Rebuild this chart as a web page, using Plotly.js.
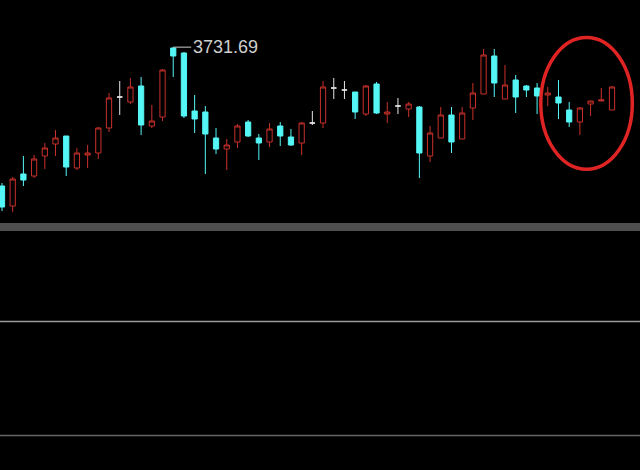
<!DOCTYPE html>
<html>
<head>
<meta charset="utf-8">
<script src="https://cdn.plot.ly/plotly-3.0.1.min.js"></script>
<style>
  html, body { margin: 0; padding: 0; background: #000; }
  #chart { width: 640px; height: 470px; }
</style>
</head>
<body>
<div id="chart"></div>
<script>
// Daily index candles
const days = Array.from({length: 58}, (_, i) => i);
const openV  = [3454,3414,3478,3474,3514,3538,3554,3490,3516,3520,3570,3632,3622,3654,3574,3592,3730,3720,3604,3602,3550,3528,3542,3582,3550,3542,3574,3552,3540,3580,3580,3650,3646,3642,3598,3658,3598,3614,3608,3612,3514,3550,3596,3548,3610,3638,3714,3628,3666,3654,3650,3636,3632,3606,3582,3618,3624,3606];
const highV  = [3460,3472,3514,3516,3540,3566,3554,3530,3536,3572,3640,3664,3670,3672,3616,3688,3731.69,3722,3636,3614,3570,3548,3578,3586,3558,3580,3582,3568,3582,3604,3664,3670,3664,3642,3656,3662,3622,3630,3622,3614,3574,3612,3612,3612,3660,3728,3728,3696,3676,3656,3660,3652,3666,3622,3612,3624,3650,3654];
const lowV   = [3404,3402,3454,3470,3488,3514,3474,3486,3490,3508,3562,3596,3618,3556,3570,3584,3672,3590,3560,3478,3518,3486,3530,3552,3506,3532,3534,3534,3516,3576,3570,3628,3628,3588,3594,3598,3580,3598,3592,3470,3502,3550,3520,3548,3586,3638,3632,3628,3600,3632,3598,3614,3588,3572,3556,3594,3624,3606];
const closeV = [3412,3468,3466,3508,3530,3550,3492,3520,3520,3570,3630,3632,3652,3576,3584,3686,3714,3594,3588,3558,3528,3536,3574,3554,3540,3568,3554,3536,3580,3580,3652,3650,3646,3602,3654,3600,3602,3614,3618,3520,3560,3596,3542,3600,3640,3716,3660,3656,3632,3646,3634,3640,3620,3582,3610,3624,3626,3652];
const peakLabel = "3731.69";
const peakIndex = 16;

function pick(test) {
  const x = [], o = [], h = [], l = [], c = [];
  days.forEach((d, i) => {
    if (test(openV[i], closeV[i])) {
      x.push(d); o.push(openV[i]); h.push(highV[i]); l.push(lowV[i]); c.push(closeV[i]);
    }
  });
  return {x, open: o, high: h, low: l, close: c};
}

const RED = '#c8302a', CYAN = '#54f6f6', WHITE = '#e6e6e6';

function candle(sel, lineColor, fill) {
  return Object.assign({
    type: 'candlestick',
    whiskerwidth: 0,
    hoverinfo: 'skip',
    increasing: {line: {color: lineColor, width: 1}, fillcolor: fill},
    decreasing: {line: {color: lineColor, width: 1}, fillcolor: fill},
    showlegend: false
  }, sel);
}

const data = [
  candle(pick((o, c) => c > o), RED, '#000000'),
  candle(pick((o, c) => c < o), CYAN, CYAN),
  candle(pick((o, c) => c === o), WHITE, WHITE)
];

const layout = {
  width: 640, height: 470,
  margin: {l: 0, r: 0, t: 0, b: 0},
  paper_bgcolor: '#000', plot_bgcolor: '#000',
  showlegend: false,
  xaxis: {range: [-0.187, 59.617], showgrid: false, zeroline: false, showticklabels: false,
          rangeslider: {visible: false}, fixedrange: true, showline: false, ticks: ''},
  yaxis: {range: [2886, 3826], showgrid: false, zeroline: false, showticklabels: false,
          fixedrange: true, showline: false, ticks: ''},
  shapes: [
    {type: 'rect', xref: 'paper', yref: 'paper', x0: 0, x1: 1, y0: 0.5085, y1: 0.5255,
     fillcolor: '#4e4e4e', line: {width: 0}},
    {type: 'line', xref: 'paper', yref: 'paper', x0: 0, x1: 1, y0: 0.316, y1: 0.316,
     line: {color: '#9a9a9a', width: 1.5}},
    {type: 'line', xref: 'paper', yref: 'paper', x0: 0, x1: 1, y0: 0.0734, y1: 0.0734,
     line: {color: '#666666', width: 1.5}},
    {type: 'circle', xref: 'paper', yref: 'paper', x0: 0.845, x1: 0.988, y0: 0.64, y1: 0.92,
     line: {color: '#e02424', width: 3.5}}
  ],
  annotations: [{
    x: days[peakIndex], y: highV[peakIndex], xref: 'x', yref: 'y',
    text: peakLabel, showarrow: true, arrowhead: 0, arrowwidth: 1, arrowcolor: '#cccccc',
    ax: 18, ay: 0, xanchor: 'left', yanchor: 'middle',
    font: {family: 'Liberation Sans, Arial, sans-serif', size: 18, color: '#cfcfcf'}
  }]
};

Plotly.newPlot('chart', data, layout, {staticPlot: true, displayModeBar: false});
</script>
</body>
</html>
